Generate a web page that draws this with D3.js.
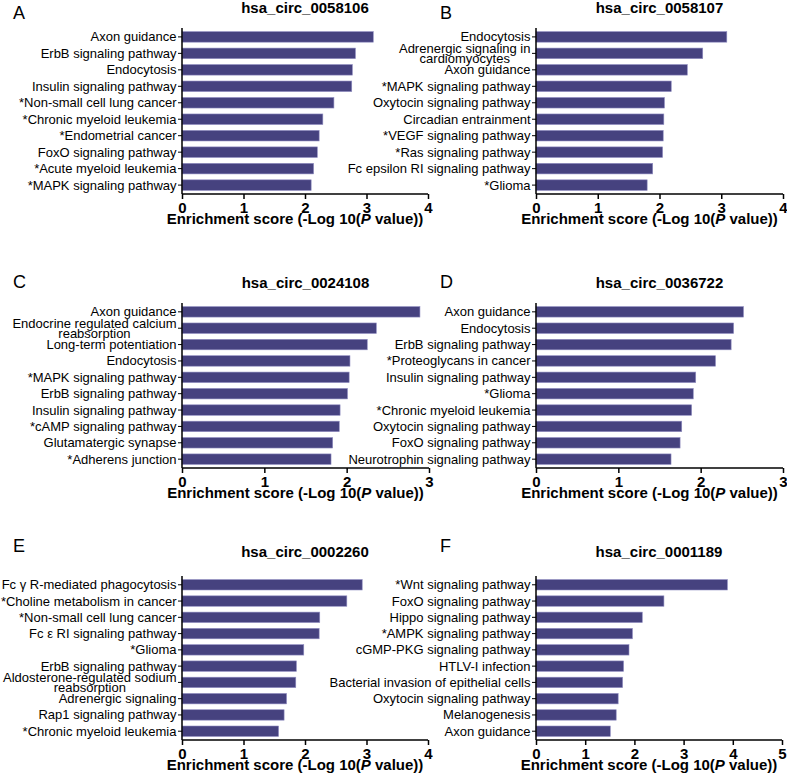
<!DOCTYPE html>
<html><head><meta charset="utf-8">
<script src="https://cdn.jsdelivr.net/npm/d3@7"></script>
<style>
body{margin:0;background:#fff;}
svg{display:block;font-family:"Liberation Sans",Arial,sans-serif;}
</style></head>
<body><svg id="chart" width="787" height="775"></svg>
<script>
const titles = ["hsa_circ_0058106","hsa_circ_0058107","hsa_circ_0024108","hsa_circ_0036722","hsa_circ_0002260","hsa_circ_0001189"];
const panelLetters = ["A","B","C","D","E","F"];
const xMaxes = [4,4,3,3,4,5];

const catsA = ["Axon guidance","ErbB signaling pathway","Endocytosis","Insulin signaling pathway","*Non-small cell lung cancer","*Chronic myeloid leukemia","*Endometrial cancer","FoxO signaling pathway","*Acute myeloid leukemia","*MAPK signaling pathway"];
const valsA = [3.11,2.82,2.77,2.76,2.47,2.29,2.23,2.20,2.14,2.10];

const catsB = ["Endocytosis","Adrenergic signaling in|cardiomyocytes","Axon guidance","*MAPK signaling pathway","Oxytocin signaling pathway","Circadian entrainment","*VEGF signaling pathway","*Ras signaling pathway","Fc epsilon RI signaling pathway","*Glioma"];
const valsB = [3.09,2.70,2.45,2.19,2.08,2.07,2.06,2.05,1.89,1.80];

const catsC = ["Axon guidance","Endocrine regulated calcium|reabsorption","Long-term potentiation","Endocytosis","*MAPK signaling pathway","ErbB signaling pathway","Insulin signaling pathway","*cAMP signaling pathway","Glutamatergic synapse","*Adherens junction"];
const valsC = [2.89,2.36,2.25,2.04,2.03,2.01,1.92,1.91,1.83,1.81];

const catsD = ["Axon guidance","Endocytosis","ErbB signaling pathway","*Proteoglycans in cancer","Insulin signaling pathway","*Glioma","*Chronic myeloid leukemia","Oxytocin signaling pathway","FoxO signaling pathway","Neurotrophin signaling pathway"];
const valsD = [2.52,2.40,2.37,2.18,1.94,1.91,1.89,1.77,1.75,1.64];

const catsE = ["Fc γ R-mediated phagocytosis","*Choline metabolism in cancer","*Non-small cell lung cancer","Fc ε RI signaling pathway","*Glioma","ErbB signaling pathway","Aldosterone-regulated sodium|reabsorption","Adrenergic signaling","Rap1 signaling pathway","*Chronic myeloid leukemia"];
const valsE = [2.93,2.68,2.24,2.23,1.98,1.86,1.85,1.70,1.66,1.57];

const catsF = ["*Wnt signaling pathway","FoxO signaling pathway","Hippo signaling pathway","*AMPK signaling pathway","cGMP-PKG signaling pathway","HTLV-I infection","Bacterial invasion of epithelial cells","Oxytocin signaling pathway","Melanogenesis","Axon guidance"];
const valsF = [3.89,2.60,2.16,1.96,1.89,1.78,1.76,1.67,1.63,1.51];

const allCats = [catsA,catsB,catsC,catsD,catsE,catsF];
const allVals = [valsA,valsB,valsC,valsD,valsE,valsF];

// layout: [x0, x1, yTop, yBottom]
const layout = [
  [182, 428, 28, 194],
  [536, 783, 28, 194],
  [182, 429, 303, 468],
  [536, 783, 303, 468],
  [182, 428, 576, 740],
  [536, 782, 576, 740]
];
const letterPos = [[13,19],[440,19],[13,288],[440,288],[13,552],[440,552]];
const titleY = [13,13,288,288,557,557];
const barColor = "#46427f";

const svg = d3.select("#chart");

allCats.forEach((cats, i) => {
  const [x0,x1,y0,y1] = layout[i];
  const g = svg.append("g");
  const x = d3.scaleLinear().domain([0, xMaxes[i]]).range([x0, x1]);
  const y = d3.scaleBand().domain(cats).range([y0, y1]).paddingInner(0.36).paddingOuter(0.22);

  g.selectAll("rect.bar").data(cats).join("rect")
    .attr("class","bar")
    .attr("x", x(0))
    .attr("y", d => y(d))
    .attr("width", (d,j) => x(allVals[i][j]) - x(0))
    .attr("height", y.bandwidth())
    .attr("fill", barColor)
    .attr("stroke", "#8f8cc0")
    .attr("stroke-width", 0.6);

  // y axis
  const yAxis = g.append("g").attr("transform", `translate(${x0},0)`)
    .call(d3.axisLeft(y).tickSize(4).tickPadding(1).tickFormat(""));
  yAxis.select(".domain").attr("stroke","#000").attr("stroke-width",1.5).attr("d", `M0,${y0}V${y1}`);
  yAxis.selectAll(".tick line").attr("stroke","#000").attr("stroke-width",1);

  // y labels
  cats.forEach(c => {
    const cy = y(c) + y.bandwidth()/2;
    const parts = c.split("|");
    const tx = x0 - 5.5;
    if (parts.length === 1) {
      g.append("text").attr("x", tx).attr("y", cy).attr("dy","0.35em")
        .attr("text-anchor","end").attr("font-size","13px").attr("fill","#000").text(parts[0]);
    } else {
      const t1 = g.append("text").attr("x", tx).attr("y", cy - 5).attr("dy","0.35em")
        .attr("text-anchor","end").attr("font-size","13px").attr("fill","#000").text(parts[0]);
      const w = t1.node().getComputedTextLength();
      g.append("text").attr("x", tx - w/2).attr("y", cy + 5.5).attr("dy","0.35em")
        .attr("text-anchor","middle").attr("font-size","13px").attr("fill","#000").text(parts[1]);
    }
  });

  // x axis
  const xAxis = g.append("g").attr("transform", `translate(0,${y1})`)
    .call(d3.axisBottom(x).ticks(xMaxes[i]).tickSize(5).tickPadding(3).tickFormat(d3.format("d")));
  xAxis.select(".domain").attr("stroke","#000").attr("stroke-width",1.5).attr("d", `M${x0},0H${x1}`);
  xAxis.selectAll(".tick line").attr("stroke","#000").attr("stroke-width",1.5);
  xAxis.selectAll(".tick text").attr("font-size","15px").attr("font-weight","bold")
    .attr("fill","#000").attr("font-family","\"Liberation Sans\",Arial,sans-serif");

  // axis title
  const at = g.append("text").attr("x", (x0+x1)/2 - 10).attr("y", y1 + 30)
    .attr("text-anchor","middle").attr("font-size","15px").attr("font-weight","bold").attr("fill","#000");
  at.append("tspan").text("Enrichment score (-Log 10(");
  at.append("tspan").attr("font-style","italic").text("P");
  at.append("tspan").text(" value))");

  // panel title
  g.append("text").attr("x", (x0+x1)/2).attr("y", titleY[i])
    .attr("text-anchor","middle").attr("font-size","15px").attr("font-weight","bold").attr("fill","#000")
    .text(titles[i]);

  // panel letter
  g.append("text").attr("x", letterPos[i][0]).attr("y", letterPos[i][1])
    .attr("font-size","18px").attr("fill","#000").text(panelLetters[i]);
});
</script>
</body></html>
